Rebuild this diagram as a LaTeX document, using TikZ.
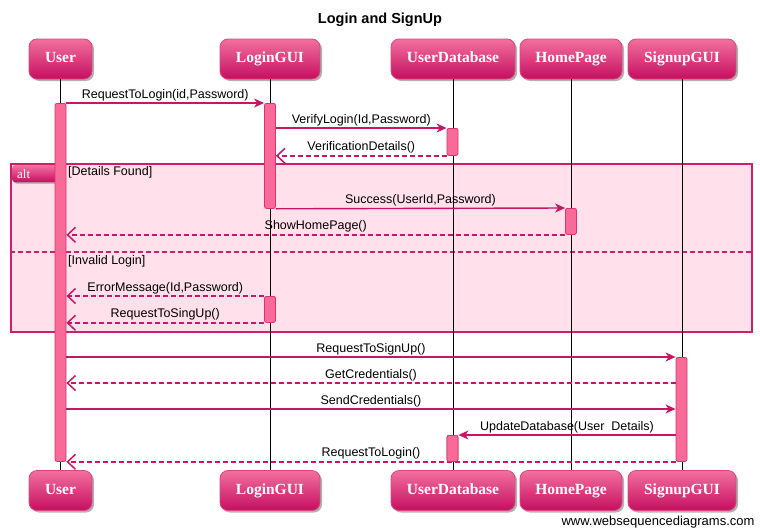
\documentclass[tikz,border=0pt]{standalone}
\usepackage{fontspec}
\setmainfont{Liberation Serif}
\setsansfont{Liberation Sans}
\usetikzlibrary{arrows.meta,shadows,backgrounds}

\definecolor{boxtop}{RGB}{242,112,158}
\definecolor{boxbot}{RGB}{198,14,96}
\definecolor{boxline}{RGB}{218,70,128}
\definecolor{msgcol}{RGB}{200,22,102}
\definecolor{barfill}{RGB}{248,106,152}
\definecolor{barline}{RGB}{212,54,114}
\definecolor{altfill}{RGB}{255,224,235}
\definecolor{altline}{RGB}{206,30,108}

\begin{document}
\begin{tikzpicture}[x=1pt, y=-1pt,
    actor/.style={rounded corners=8pt, draw=boxline, line width=0.8pt,
      top color=boxtop, bottom color=boxbot, text=white,
      font=\fontsize{15.5}{15.5}\selectfont\bfseries, minimum height=40pt, inner xsep=0pt,
      text height=10.5pt, text depth=3.5pt,
      drop shadow={shadow xshift=2pt, shadow yshift=-2pt, opacity=0.3, fill=black}},
    lifeline/.style={black, line width=0.8pt},
    bar/.style={fill=barfill, draw=barline, line width=0.8pt, rounded corners=2pt,
      minimum width=11pt, inner sep=0pt, anchor=north},
    call/.style={msgcol, line width=1.4pt, -{Stealth[length=10pt, width=9pt, inset=3pt]}},
    reply/.style={msgcol, line width=1.5pt, dash pattern=on 5pt off 3pt,
      -{Straight Barb[length=8pt, width=15pt]}},
    msg/.style={font=\sffamily\fontsize{12.5}{12.5}\selectfont, text=black, above, inner sep=1.5pt},
    guard/.style={font=\sffamily\fontsize{12.5}{12.5}\selectfont, anchor=west, inner sep=0pt}
  ]
      \useasboundingbox (0,0) rectangle (760,530);

      \draw (380, 20) node [font=\sffamily\bfseries\fontsize{14.5}{15}\selectfont] (title) {Login and SignUp};

      % participants
      \draw (60.5, 59) node [actor, minimum width=63pt] (user) {User};
      \draw (270, 59) node [actor, minimum width=100pt] (login) {LoginGUI};
      \draw (453, 59) node [actor, minimum width=124pt] (db) {UserDatabase};
      \draw (571, 59) node [actor, minimum width=102pt] (home) {HomePage};
      \draw (682, 59) node [actor, minimum width=108pt] (signup) {SignupGUI};

      \draw (60.5, 490.5) node [actor, minimum width=63pt] (user_b) {User};
      \draw (270, 490.5) node [actor, minimum width=100pt] (login_b) {LoginGUI};
      \draw (453, 490.5) node [actor, minimum width=124pt] (db_b) {UserDatabase};
      \draw (571, 490.5) node [actor, minimum width=102pt] (home_b) {HomePage};
      \draw (682, 490.5) node [actor, minimum width=108pt] (signup_b) {SignupGUI};

      \draw [lifeline] (user) -- (user_b);
      \draw [lifeline] (login) -- (login_b);
      \draw [lifeline] (db) -- (db_b);
      \draw [lifeline] (home) -- (home_b);
      \draw [lifeline] (signup) -- (signup_b);

      %%%%%%%%%%%%%%%%%%%%%%%%%%%%%%%%%%%%%%%%%%%%%%%%%%%%%%%%%%%%%%
      % alt frame
      %%%%%%%%%%%%%%%%%%%%%%%%%%%%%%%%%%%%%%%%%%%%%%%%%%%%%%%%%%%%%%
      \begin{scope}[on background layer]
        \draw (381.5, 248) node [fill=altfill, draw=altline, line width=1.2pt,
          minimum width=741pt, minimum height=168pt] (alt_frame) {};
        \coordinate (else_y) at (0, 252);
        \draw [altline, line width=1.2pt, dash pattern=on 5pt off 3pt]
          (alt_frame.west |- else_y) -- (alt_frame.east |- else_y);
      \end{scope}
      \draw (12, 165) node [anchor=north west, top color=boxtop, bottom color=boxbot,
        rounded corners=3pt, text=white, font=\fontsize{13}{13}\selectfont,
        text width=36pt, align=left, inner xsep=5pt, inner ysep=0pt, minimum height=17pt,
        drop shadow={shadow xshift=1.5pt, shadow yshift=-1.5pt, opacity=0.3, fill=black}] (alt_tab) {alt};
      \draw (68, 172) node [guard] (guard_found) {[Details Found]};
      \draw (68, 261) node [guard] (guard_invalid) {[Invalid Login]};

      % activations
      \draw (60.5, 103) node [bar, minimum height=358pt] (user_act) {};
      \draw (270, 103) node [bar, minimum height=105pt] (login_act1) {};
      \draw (452.5, 128) node [bar, minimum height=27pt] (db_act1) {};
      \draw (571, 208) node [bar, minimum height=26pt] (home_act) {};
      \draw (270, 296) node [bar, minimum height=26pt] (login_act2) {};
      \draw (681.5, 357) node [bar, minimum height=104pt] (signup_act) {};
      \draw (452.5, 435) node [bar, minimum height=26pt] (db_act2) {};

      \coordinate (get_y) at (0, 383);
      \coordinate (send_y) at (0, 409);

      % messages
      \draw [call] (user_act.north east) -- (login_act1.north west)
        node [msg, midway] {RequestToLogin(id,Password)};
      \draw [call] (login_act1.east |- db_act1.north) -- (db_act1.north west)
        node [msg, midway] {VerifyLogin(Id,Password)};
      \draw [reply] (db_act1.south west) -- (login_act1.east |- db_act1.south)
        node [msg, midway] {VerificationDetails()};
      \draw [call] (login_act1.south east) -- (home_act.north west)
        node [msg, midway] {Success(UserId,Password)};
      \draw [reply] (home_act.south west) -- (user_act.east |- home_act.south)
        node [msg, midway] {ShowHomePage()};
      \draw [reply] (login_act2.north west) -- (user_act.east |- login_act2.north)
        node [msg, midway] {ErrorMessage(Id,Password)};
      \draw [reply] (login_act2.south west) -- (user_act.east |- login_act2.south)
        node [msg, midway] {RequestToSingUp()};
      \draw [call] (user_act.east |- signup_act.north) -- (signup_act.north west)
        node [msg, midway] {RequestToSignUp()};
      \draw [reply] (signup_act.west |- get_y) -- (user_act.east |- get_y)
        node [msg, midway] {GetCredentials()};
      \draw [call] (user_act.east |- send_y) -- (signup_act.west |- send_y)
        node [msg, midway] {SendCredentials()};
      \draw [call] (signup_act.west |- db_act2.north) -- (db_act2.north east)
        node [msg, midway] {UpdateDatabase(User~~Details)};
      \draw [reply] (signup_act.south west) -- (user_act.south east)
        node [msg, midway] {RequestToLogin()};

      % bars again on top of the lines they cover
      \draw (452.5, 435) node [bar, minimum height=26pt] {};

      \draw (758, 522) node [anchor=east, font=\sffamily\fontsize{13}{13}\selectfont] (footer) {www.websequencediagrams.com};
\end{tikzpicture}
\end{document}
